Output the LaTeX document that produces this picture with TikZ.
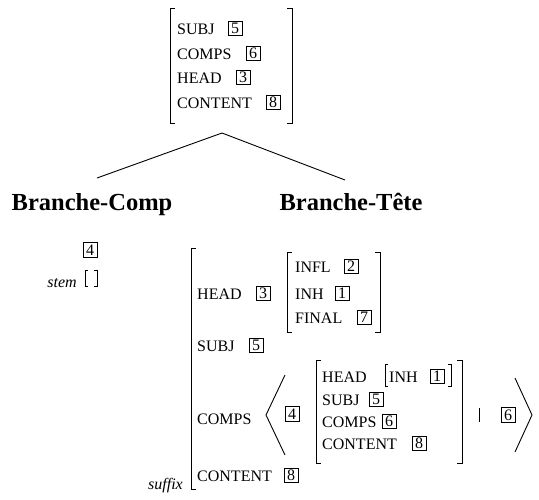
\documentclass[tikz,border=0pt]{standalone}
\usepackage{fontspec}
\setmainfont{Liberation Serif}
\begin{document}
\begin{tikzpicture}[
            x = 1pt, y = -1pt,
            feat/.style = {anchor = base west, inner sep = 0pt, font = \fontsize{16}{18}\selectfont},
            tag/.style = {draw, line width = 0.8pt, inner sep = 0pt, minimum width = 14pt, minimum height = 14.5pt, font = \fontsize{16}{16}\selectfont},
            branch/.style = {anchor = base, inner sep = 0pt, font = \fontsize{24.5}{28}\selectfont\bfseries},
            lab/.style = {anchor = base east, inner sep = 0pt, font = \fontsize{16}{18}\selectfont\itshape},
            brk/.style = {draw, line width = 0.8pt},
            line/.style = {draw, line width = 0.9pt},
        ]
        \useasboundingbox (0,0) rectangle (539,499);

        \path[brk] (175,8) -- (170,8) -- (170,123) -- (175,123);
        \path[brk] (287,8) -- (292,8) -- (292,123) -- (287,123);
        \node (msubj) [feat] at (177,34){SUBJ};
        \node (msubjt) [tag] at (235,28.5){5};
        \node (mcomps) [feat] at (177,59){COMPS};
        \node (mcompst) [tag] at (253,53.5){6};
        \node (mhead) [feat] at (177,83){HEAD};
        \node (mheadt) [tag] at (243,77.5){3};
        \node (mcont) [feat] at (177,108){CONTENT};
        \node (mcontt) [tag] at (273,102.5){8};

        \coordinate (apex) at (222,133);
        \coordinate (lend) at (97,178);
        \coordinate (rend) at (345,180);
        \path[line] (apex) -- (lend);
        \path[line] (apex) -- (rend);
        \node (bcomp) [branch] at (92,210){Branche-Comp};
        \node (btete) [branch] at (351,210){Branche-Tête};

        \node (stag) [tag] at (90,250){4};
        \node (stem) [lab] at (77,287){stem};
        \path[brk] (88,270) -- (85,270) -- (85,286) -- (88,286);
        \path[brk] (94,270) -- (97,270) -- (97,286) -- (94,286);

        \path[brk] (196,248) -- (191,248) -- (191,489) -- (196,489);
        \node (suffix) [lab] at (183,489){suffix};
        \node (head) [feat] at (197,299){HEAD};
        \node (headt) [tag] at (263,293.5){3};
        \path[brk] (292,252) -- (287,252) -- (287,332) -- (292,332);
        \path[brk] (375,252) -- (380,252) -- (380,332) -- (375,332);
        \node (infl) [feat] at (295,272){INFL};
        \node (inflt) [tag] at (351,266.5){2};
        \node (inh) [feat] at (295,299){INH};
        \node (inht) [tag] at (342,293.5){1};
        \node (final) [feat] at (295,323){FINAL};
        \node (finalt) [tag] at (364,317.5){7};

        \node (subj) [feat] at (197,351){SUBJ};
        \node (subjt) [tag] at (256,345.5){5};

        \node (comps) [feat] at (197,424){COMPS};
        \path[line] (285,375) -- (266,415) -- (285,455);
        \node (compsa) [tag] at (292,414){4};
        \path[brk] (321,360) -- (316,360) -- (316,463) -- (321,463);
        \path[brk] (457,360) -- (462,360) -- (462,463) -- (457,463);
        \node (ihead) [feat] at (322,382){HEAD};
        \path[brk] (388,364) -- (385,364) -- (385,386) -- (388,386);
        \path[brk] (448,364) -- (451,364) -- (451,386) -- (448,386);
        \node (iinh) [feat] at (389,382){INH};
        \node (iinht) [tag] at (437,376.5){1};
        \node (isubj) [feat] at (322,405){SUBJ};
        \node (isubjt) [tag] at (376,399.5){5};
        \node (icomps) [feat] at (322,427){COMPS};
        \node (icompst) [tag] at (389,421.5){6};
        \node (icont) [feat] at (322,449){CONTENT};
        \node (icontt) [tag] at (419,443.5){8};
        \path[brk] (479,408) -- (479,422);
        \node (compsb) [tag] at (508,415){6};
        \path[line] (515,378) -- (532,415) -- (515,452);

        \node (cont) [feat] at (197,481){CONTENT};
        \node (contt) [tag] at (291,475.5){8};
    \end{tikzpicture}
\end{document}
